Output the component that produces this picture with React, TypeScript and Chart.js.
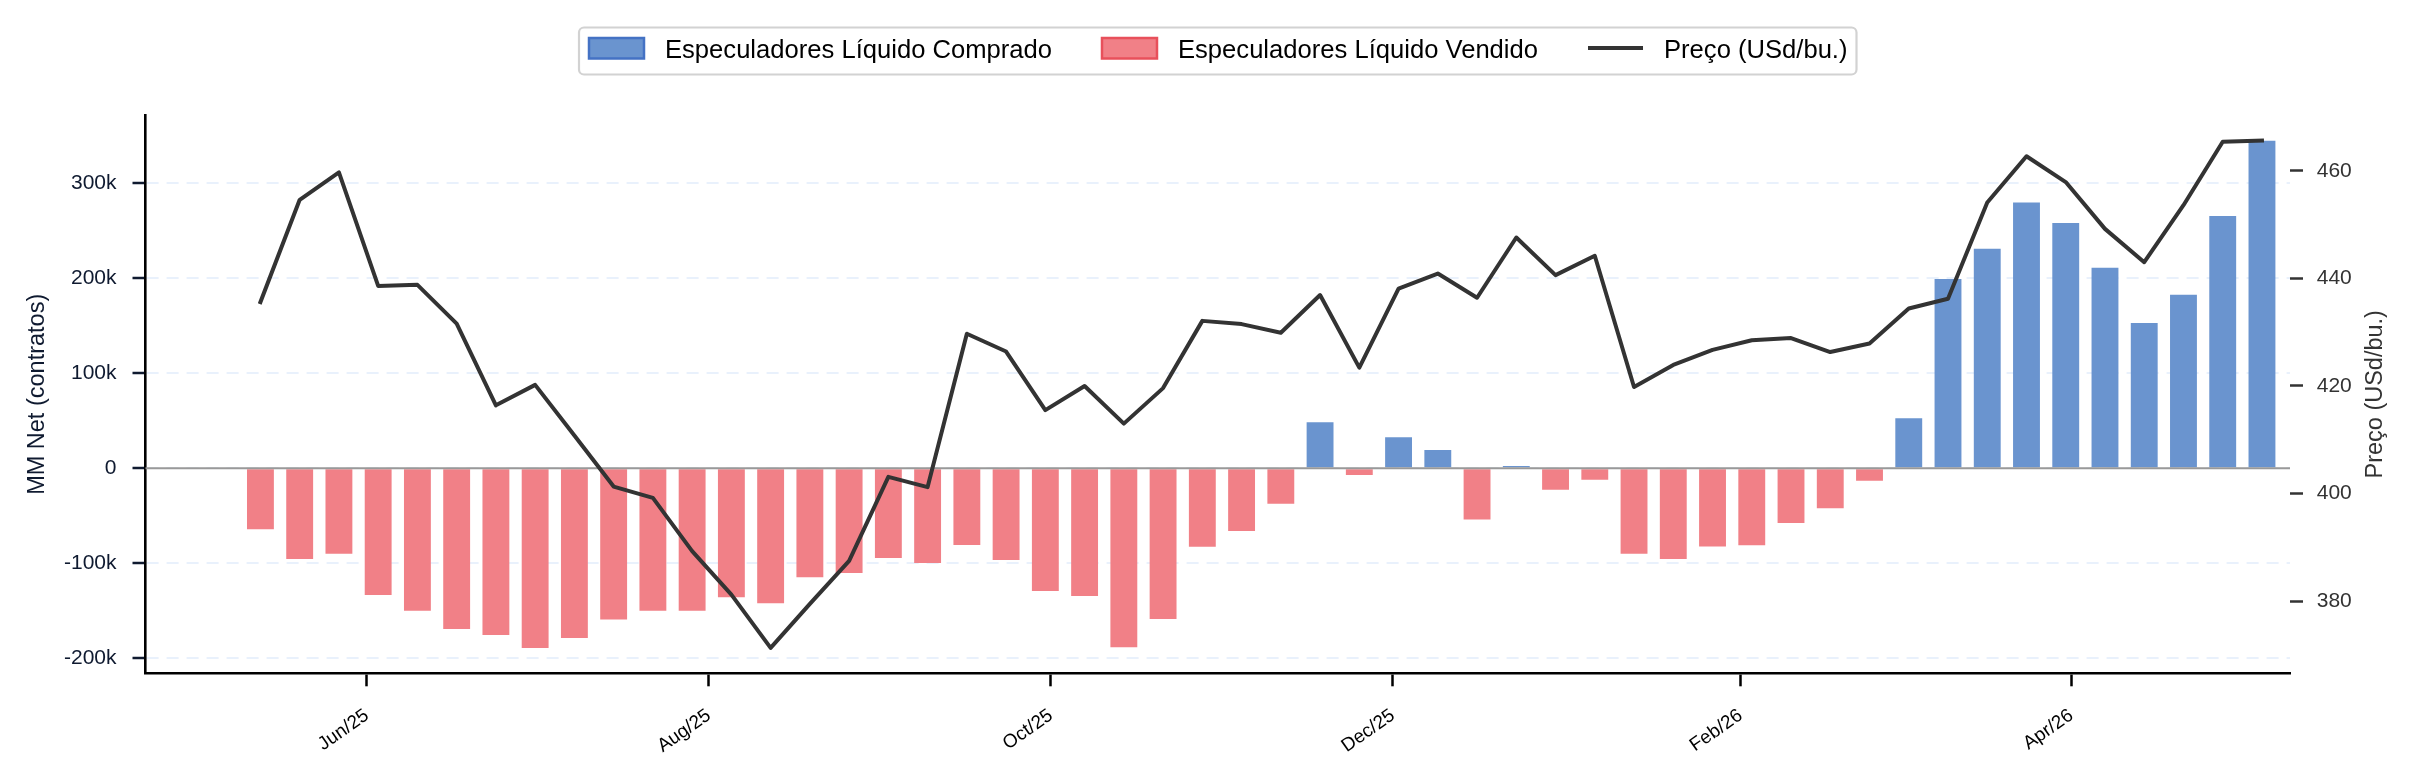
import React, { useEffect, useRef } from "react";
import { Chart, registerables } from "chart.js";

Chart.register(...registerables);

// Weekly COT report dates (Tuesdays)
const reportDates = [
  "2025-05-13", "2025-05-20", "2025-05-27", "2025-06-03", "2025-06-10", "2025-06-17", "2025-06-24",
  "2025-07-01", "2025-07-08", "2025-07-15", "2025-07-22", "2025-07-29", "2025-08-05", "2025-08-12",
  "2025-08-19", "2025-08-26", "2025-09-02", "2025-09-09", "2025-09-16", "2025-09-23", "2025-09-30",
  "2025-10-07", "2025-10-14", "2025-10-21", "2025-10-28", "2025-11-04", "2025-11-11", "2025-11-18",
  "2025-11-25", "2025-12-02", "2025-12-09", "2025-12-16", "2025-12-23", "2025-12-30", "2026-01-06",
  "2026-01-13", "2026-01-20", "2026-01-27", "2026-02-03", "2026-02-10", "2026-02-17", "2026-02-24",
  "2026-03-03", "2026-03-10", "2026-03-17", "2026-03-24", "2026-03-31", "2026-04-07", "2026-04-14",
  "2026-04-21", "2026-04-28", "2026-05-05",
];

// Managed-money net position (contracts)
const netPositions = [
  -64300, -95500, -90000, -133300, -150000, -169100, -175400,
  -189000, -178500, -159000, -150000, -150000, -135600, -141900,
  -114600, -110300, -94300, -99800, -80700, -96600, -129000,
  -134400, -188200, -158600, -82600, -65900, -37400, 48300,
  -7000, 32700, 19100, -53800, 2300, -22600, -12100,
  -90000, -95500, -82200, -81100, -57700, -42100, -13300,
  52600, 199100, 230700, 279400, 258000, 210800, 152700,
  182400, 265400, 344500,
];

// Settlement price (USd/bu.)
const prices = [
  435.6, 454.6, 459.7, 438.6, 438.8, 431.6, 416.4,
  420.2, 410.8, 401.3, 399.2, 389.3, 381.2, 371.3,
  379.5, 387.5, 403.1, 401.2, 429.7, 426.4, 415.5,
  420.0, 413.0, 419.6, 432.1, 431.5, 429.9, 436.9,
  423.4, 438.1, 440.9, 436.4, 447.6, 440.6, 444.2,
  419.8, 423.9, 426.7, 428.5, 428.9, 426.3, 427.9,
  434.4, 436.2, 454.1, 462.7, 457.9, 449.2, 443.0,
  453.6, 465.4, 465.6,
];

const monthTickDates = ["2025-06-01", "2025-08-01", "2025-10-01", "2025-12-01", "2026-02-01", "2026-04-01"];
const monthTickLabels = ["Jun/25", "Aug/25", "Oct/25", "Dec/25", "Feb/26", "Apr/26"];
const netTickValues = [-200000, -100000, 0, 100000, 200000, 300000];
const priceTickValues = [380, 400, 420, 440, 460];

const legendLabels = ["Especuladores Líquido Comprado", "Especuladores Líquido Vendido", "Preço (USd/bu.)"];
const netAxisTitle = "MM Net (contratos)";
const priceAxisTitle = "Preço (USd/bu.)";

const FONT = '"Liberation Sans", Arial, Helvetica, sans-serif';
const LONG_FILL = "#6A94CF";
const LONG_EDGE = "#4472C4";
const SHORT_FILL = "#F18087";
const SHORT_EDGE = "#E8505B";
const PRICE_COLOR = "#333333";
const NAVY = "#0f1a30";

const toDay = (s: string) => Date.parse(s + "T00:00:00Z") / 86400000;

function paddedRange(values: number[], frac: number): [number, number] {
  const lo = Math.min(...values);
  const hi = Math.max(...values);
  const pad = (hi - lo) * frac;
  return [lo - pad, hi + pad];
}

export default function App() {
  const canvasRef = useRef<HTMLCanvasElement | null>(null);

  useEffect(() => {
    const canvas = canvasRef.current;
    if (!canvas) return;

    const days = reportDates.map(toDay);
    const tickDays = monthTickDates.map(toDay);
    const [netMin, netMax] = paddedRange(netPositions, 0.05);
    const [priceMin, priceMax] = paddedRange(prices, 0.05);

    const longData = days.map((d, i) => ({ x: d, y: netPositions[i] > 0 ? netPositions[i] : null }));
    const shortData = days.map((d, i) => ({ x: d, y: netPositions[i] < 0 ? netPositions[i] : null }));
    const priceData = days.map((d, i) => ({ x: d, y: prices[i] }));

    // Solid zero reference line, drawn over the bars and under the price line
    const zeroLine = {
      id: "zeroLine",
      beforeDatasetDraw(chart: any, args: any) {
        if (args.index !== 0) return;
        const { ctx, chartArea } = chart;
        const y = chart.scales.y.getPixelForValue(0);
        ctx.save();
        ctx.strokeStyle = "#999999";
        ctx.lineWidth = 2;
        ctx.beginPath();
        ctx.moveTo(chartArea.left, y);
        ctx.lineTo(chartArea.right, y);
        ctx.stroke();
        ctx.restore();
      },
    };

    // Right-axis title, reading bottom-to-top like the left one
    const priceTitle = {
      id: "priceTitle",
      afterDraw(chart: any) {
        const { ctx, chartArea } = chart;
        const scale = chart.scales.y1;
        ctx.save();
        ctx.translate(scale.right - 40, (chartArea.top + chartArea.bottom) / 2);
        ctx.rotate(-Math.PI / 2);
        ctx.font = `23.5px ${FONT}`;
        ctx.fillStyle = "#333333";
        ctx.textAlign = "center";
        ctx.textBaseline = "middle";
        ctx.fillText(priceAxisTitle, 0, 0);
        ctx.restore();
      },
    };

    // Framed legend centred over the plot
    const framedLegend = {
      id: "framedLegend",
      afterDraw(chart: any) {
        const { ctx, chartArea } = chart;
        ctx.save();
        ctx.font = `25.6px ${FONT}`;
        const handle = 55;
        const handleGap = 21;
        const itemGap = 50;
        const padL = 10;
        const padR = 9;
        const widths = legendLabels.map((t) => ctx.measureText(t).width);
        const total = padL + padR + widths.reduce((a, w) => a + handle + handleGap + w, 0) + itemGap * (legendLabels.length - 1);
        const cx = (chartArea.left + chartArea.right) / 2;
        const boxX = cx - total / 2;
        const boxY = 27.5;
        const boxH = 47;

        ctx.beginPath();
        ctx.roundRect(boxX, boxY, total, boxH, 5);
        ctx.fillStyle = "#ffffff";
        ctx.fill();
        ctx.strokeStyle = "#d2d2d2";
        ctx.lineWidth = 2.2;
        ctx.stroke();

        let x = boxX + padL;
        const midY = boxY + boxH / 2 - 3;
        legendLabels.forEach((label, i) => {
          if (i < 2) {
            ctx.fillStyle = i === 0 ? LONG_FILL : SHORT_FILL;
            ctx.strokeStyle = i === 0 ? LONG_EDGE : SHORT_EDGE;
            ctx.lineWidth = 2.5;
            ctx.fillRect(x, midY - 10, handle, 20.5);
            ctx.strokeRect(x, midY - 10, handle, 20.5);
          } else {
            ctx.strokeStyle = PRICE_COLOR;
            ctx.lineWidth = 4;
            ctx.beginPath();
            ctx.moveTo(x, midY);
            ctx.lineTo(x + handle, midY);
            ctx.stroke();
          }
          x += handle + handleGap;
          ctx.fillStyle = "#000000";
          ctx.textBaseline = "alphabetic";
          ctx.textAlign = "left";
          ctx.fillText(label, x, boxY + 30.2);
          x += widths[i] + itemGap;
        });
        ctx.restore();
      },
    };

    const chart = new Chart(canvas, {
      type: "bar",
      data: {
        datasets: [
          {
            type: "line",
            label: legendLabels[2],
            data: priceData,
            yAxisID: "y1",
            borderColor: PRICE_COLOR,
            borderWidth: 4,
            pointRadius: 0,
            tension: 0,
            borderJoinStyle: "round",
            borderCapStyle: "square",
            fill: false,
          } as any,
          {
            type: "bar",
            label: legendLabels[0],
            data: longData,
            yAxisID: "y",
            backgroundColor: LONG_FILL,
            borderWidth: 0,
            grouped: false,
            categoryPercentage: 1,
            barPercentage: 0.685,
          } as any,
          {
            type: "bar",
            label: legendLabels[1],
            data: shortData,
            yAxisID: "y",
            backgroundColor: SHORT_FILL,
            borderWidth: 0,
            grouped: false,
            categoryPercentage: 1,
            barPercentage: 0.685,
          } as any,
        ],
      },
      options: {
        responsive: false,
        animation: false,
        devicePixelRatio: 1,
        layout: { padding: { top: 115.3, left: 0, right: 0, bottom: 0 } },
        plugins: {
          legend: { display: false },
          tooltip: { enabled: false },
        },
        scales: {
          x: {
            type: "linear",
            position: "bottom",
            min: days[0] - 20.5,
            max: days[days.length - 1] + 5,
            offset: false,
            afterBuildTicks: (s: any) => {
              s.ticks = tickDays.map((v) => ({ value: v }));
            },
            afterFit: (s: any) => {
              s.height = 107.7;
            },
            ticks: {
              autoSkip: false,
              minRotation: 35,
              maxRotation: 35,
              padding: 18,
              color: "#000000",
              font: { size: 19, family: FONT },
              callback: (_v: any, i: number) => monthTickLabels[i],
            },
            grid: {
              offset: false,
              drawOnChartArea: false,
              drawTicks: true,
              tickLength: 13,
              tickColor: "#000000",
              tickWidth: 2.5,
            },
            border: { display: true, color: "#000000", width: 2.6 },
          },
          y: {
            type: "linear",
            position: "left",
            min: netMin,
            max: netMax,
            afterBuildTicks: (s: any) => {
              s.ticks = netTickValues.map((v) => ({ value: v }));
            },
            afterFit: (s: any) => {
              s.width = 145.5;
            },
            ticks: {
              padding: 16,
              color: NAVY,
              font: { size: 21, family: FONT },
              callback: (v: any) => (v === 0 ? "0" : `${Math.round(v / 1000)}k`),
            },
            grid: {
              color: "#e9f1fc",
              lineWidth: 2,
              drawTicks: true,
              tickLength: 13,
              tickColor: NAVY,
              tickWidth: 2.5,
              tickBorderDash: [],
            },
            border: { display: true, color: "#000000", width: 2.6, dash: [12, 8] },
            title: {
              display: true,
              text: netAxisTitle,
              color: NAVY,
              font: { size: 23.5, family: FONT },
              padding: { top: 23.4, bottom: 0 },
            },
          },
          y1: {
            type: "linear",
            position: "right",
            min: priceMin,
            max: priceMax,
            afterBuildTicks: (s: any) => {
              s.ticks = priceTickValues.map((v) => ({ value: v }));
            },
            afterFit: (s: any) => {
              s.width = 126;
            },
            ticks: {
              padding: 13.7,
              color: "#333333",
              font: { size: 21, family: FONT },
              callback: (v: any) => `${v}`,
            },
            grid: {
              drawOnChartArea: false,
              drawTicks: true,
              tickLength: 13,
              tickColor: "#333333",
              tickWidth: 2.5,
            },
            border: { display: false },
          },
        },
      } as any,
      plugins: [zeroLine, priceTitle, framedLegend],
    });

    return () => chart.destroy();
  }, []);

  return (
    <div style={{ position: "fixed", left: 0, top: 0, width: 2416, height: 781, background: "#ffffff" }}>
      <canvas ref={canvasRef} width={2416} height={781} style={{ display: "block", width: 2416, height: 781 }} />
    </div>
  );
}
